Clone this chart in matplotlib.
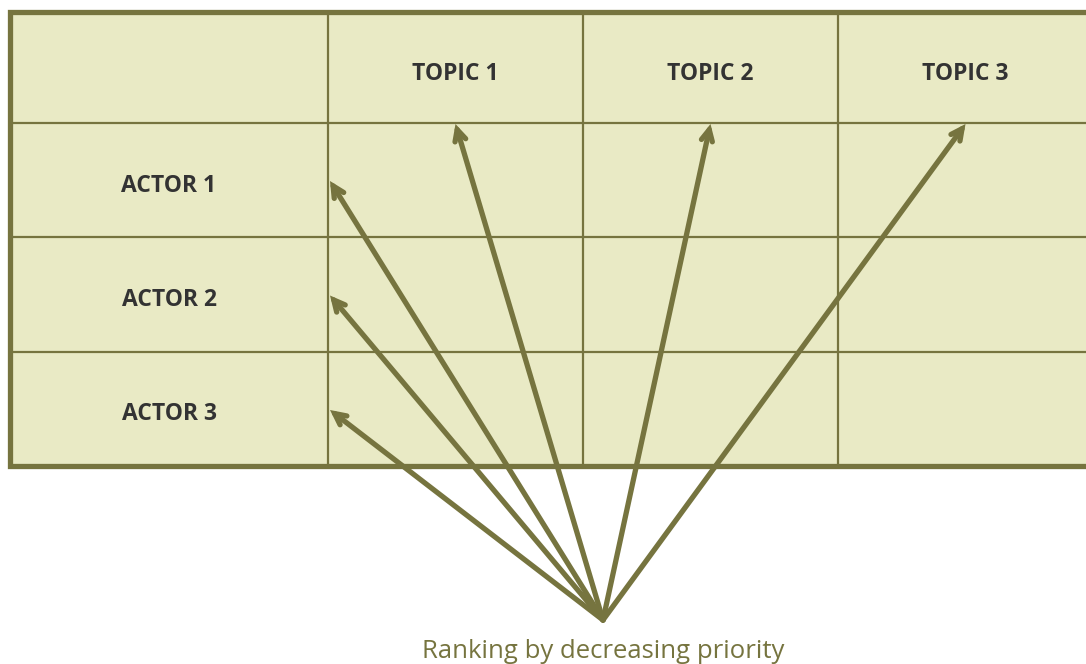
import matplotlib.pyplot as plt
from matplotlib.patches import Rectangle

# table content
col_labels = ['TOPIC 1', 'TOPIC 2', 'TOPIC 3']
row_labels = ['ACTOR 1', 'ACTOR 2', 'ACTOR 3']
caption = 'Ranking by decreasing priority'

# layout in pixels
col_edges = [10, 328, 583, 838, 1093]
row_edges = [12, 123, 237, 352, 466]
origin = (603, 620)

fill = '#e9eac5'
line = '#76743f'
text_col = '#333333'

fig = plt.figure(figsize=(10.86, 6.64), dpi=100)
ax = fig.add_axes([0, 0, 1, 1])
ax.set_xlim(0, 1086)
ax.set_ylim(664, 0)
ax.axis('off')

x0, x1 = col_edges[0], col_edges[-1]
y0, y1 = row_edges[0], row_edges[-1]
ax.add_patch(Rectangle((x0, y0), x1 - x0, y1 - y0, facecolor=fill, edgecolor='none', zorder=1))

for x in col_edges[1:-1]:
    ax.plot([x, x], [y0, y1], color=line, lw=1.6, zorder=2)
for y in row_edges[1:-1]:
    ax.plot([x0, x1], [y, y], color=line, lw=1.6, zorder=2)

# thick outer frame
ax.plot([x1, x0, x0, x1], [y0, y0, y1, y1], color=line, lw=3.8, zorder=3,
        solid_joinstyle='miter', clip_on=False)

font = ['Open Sans', 'DejaVu Sans']

# header labels
for i, lab in enumerate(col_labels):
    cx = (col_edges[i + 1] + col_edges[i + 2]) / 2
    cy = (row_edges[0] + row_edges[1]) / 2 + 6
    ax.text(cx, cy, lab, ha='center', va='center', fontsize=16.5, fontweight='bold',
            color=text_col, family=font, zorder=4)

for j, lab in enumerate(row_labels):
    cx = (col_edges[0] + col_edges[1]) / 2
    cy = (row_edges[j + 1] + row_edges[j + 2]) / 2 + 5.5
    ax.text(cx, cy, lab, ha='center', va='center', fontsize=16.5, fontweight='bold',
            color=text_col, family=font, zorder=4)

# arrows: actors first, then topics
targets = []
for j in range(len(row_labels)):
    targets.append((col_edges[1] + 2, (row_edges[j + 1] + row_edges[j + 2]) / 2 + 1))
for i in range(len(col_labels)):
    targets.append(((col_edges[i + 1] + col_edges[i + 2]) / 2, row_edges[1] + 1))

for tx, ty in targets:
    ax.annotate('', xy=(tx, ty), xytext=origin,
                arrowprops=dict(arrowstyle='->,head_length=0.8,head_width=0.4',
                                color=line, lw=3.8, shrinkA=0, shrinkB=0,
                                capstyle='round', joinstyle='miter'),
                zorder=5)

ax.text(origin[0], 652, caption, ha='center', va='center', fontsize=18.5,
        color=line, family=font)

fig.savefig('out.png', dpi=100)
